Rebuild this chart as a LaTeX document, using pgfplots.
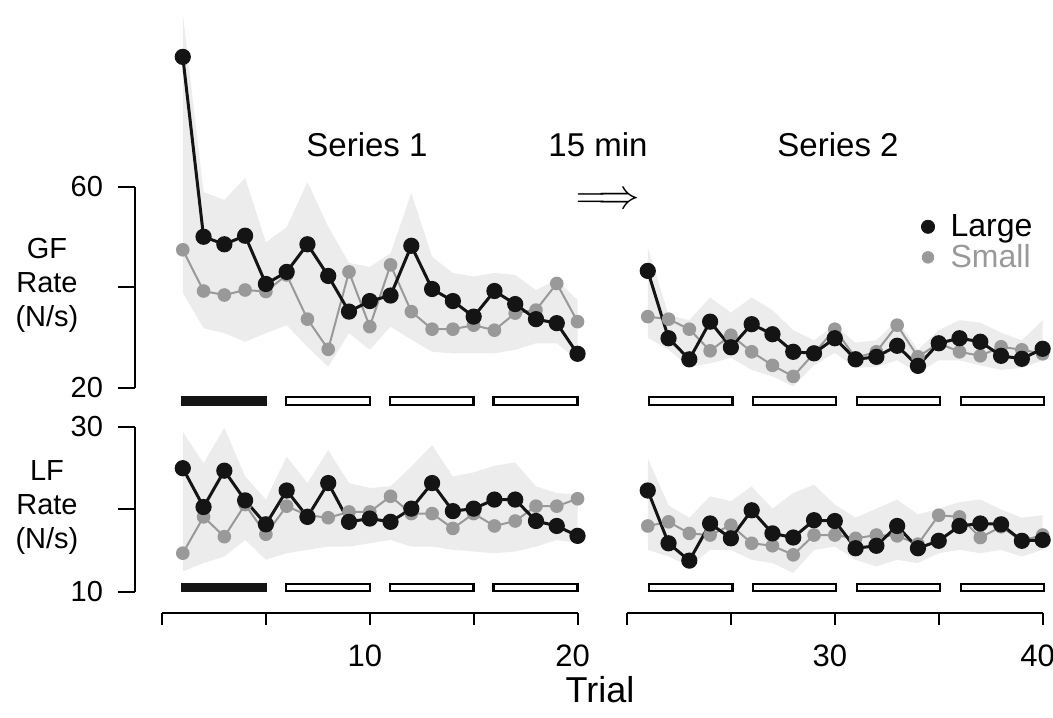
\documentclass[border=0pt]{standalone}
\usepackage{fontspec}
\setmainfont{Liberation Sans}
\usepackage{pgfplots}
\pgfplotsset{compat=1.18}
\usepackage{pgfplotstable}
\usepgfplotslibrary{fillbetween}

\definecolor{bandgray}{gray}{0.925}
\definecolor{smallgray}{gray}{0.6}
\definecolor{largeblack}{gray}{0.08}

% trial, Large, Small, band upper, band lower
\pgfplotstableread{
t  L    S    up   lo
1  85.9 47.5 94.5 38.9
2  50.1 39.3 59.0 31.9
3  48.6 38.5 57.4 30.9
4  50.3 39.5 61.8 29.2
5  40.7 39.2 49.0 30.9
6  43.1 42.5 52.0 32.5
7  48.6 33.7 61.0 28.2
8  42.3 27.7 52.1 24.2
9  35.2 43.1 44.9 30.9
10 37.3 32.2 44.1 27.6
11 38.4 44.5 46.8 32.2
12 48.3 35.2 58.8 29.6
13 39.7 31.7 46.1 27.2
14 37.3 31.7 42.9 26.9
15 34.2 32.5 42.2 26.9
16 39.3 31.5 42.9 26.9
17 36.7 34.9 42.5 27.6
18 33.7 35.5 39.5 28.9
19 32.9 40.8 41.5 28.9
20 26.8 33.2 37.5 25.6
}\GFone
\pgfplotstableread{
t  L    S    up   lo
21 43.3 34.2 48.0 30.0
22 29.9 33.7 34.5 27.6
23 25.7 31.7 33.5 24.2
24 33.2 27.4 38.0 24.9
25 28.1 30.5 35.0 26.0
26 32.7 27.2 38.0 23.6
27 30.7 24.5 35.5 22.3
28 27.2 22.3 31.5 20.3
29 26.9 26.9 29.5 24.5
30 29.9 31.7 32.5 27.0
31 25.7 26.0 29.0 24.0
32 26.2 27.2 29.5 24.2
33 28.4 32.5 33.5 25.5
34 24.4 26.2 27.6 23.0
35 28.9 28.9 31.5 25.5
36 29.9 27.2 33.5 25.5
37 29.2 26.4 33.0 24.5
38 26.4 28.2 31.0 23.6
39 25.8 27.6 29.5 24.0
40 27.8 26.8 33.5 25.5
}\GFtwo
\pgfplotstableread{
t  L    S    up   lo
1  25.0 14.7 29.4 12.5
2  20.3 19.1 25.6 13.5
3  24.7 16.7 29.9 14.3
4  21.1 20.6 24.0 16.3
5  18.2 17.0 21.2 13.9
6  22.3 20.4 26.4 14.7
7  19.1 19.3 23.2 15.1
8  23.2 19.0 27.2 15.5
9  18.5 19.7 23.2 15.5
10 18.9 19.7 22.6 15.9
11 18.5 21.6 22.8 16.3
12 20.1 19.5 25.2 15.5
13 23.2 19.5 27.8 15.5
14 19.8 17.7 24.0 15.1
15 20.1 19.5 24.5 14.9
16 21.2 18.0 25.3 14.7
17 21.2 18.6 25.7 14.9
18 18.6 20.4 22.8 15.5
19 18.0 20.4 22.0 16.3
20 16.8 21.3 21.8 15.9
}\LFone
\pgfplotstableread{
t  L    S    up   lo
21 22.3 18.0 26.2 15.1
22 15.9 18.5 20.5 14.3
23 13.8 17.1 19.0 13.1
24 18.3 16.9 21.6 15.1
25 16.5 18.1 21.0 15.1
26 19.9 15.9 22.8 13.9
27 17.1 15.6 20.1 13.5
28 16.6 14.5 22.0 12.3
29 18.7 16.9 23.0 15.1
30 18.6 16.9 20.6 15.5
31 15.3 16.5 19.0 13.9
32 15.6 16.9 20.1 13.1
33 18.0 16.8 21.2 13.9
34 15.3 15.8 19.4 13.5
35 16.2 19.3 20.1 14.7
36 18.0 19.1 20.9 15.1
37 18.3 16.6 21.2 14.7
38 18.2 17.9 20.0 15.1
39 16.2 16.2 19.0 14.3
40 16.3 16.9 19.3 15.1
}\LFtwo

\tikzset{blk/.style={line width=1.2pt, fill=white}}
\pgfplotsset{
  panel/.style={scale only axis, clip=false, axis line style={draw=none},
    tick align=outside, tick style={line width=1pt, black},
    major tick length=8.5pt,
    /pgf/number format/assume math mode=true,
    yticklabel style={font=\fontsize{14.5}{15}\selectfont, xshift=-4pt},
    xticklabel style={font=\fontsize{15.5}{16}\selectfont, xshift=-2.5pt, yshift=-4pt},
    xtick=\empty, ytick=\empty, xtick pos=bottom, ytick pos=left},
  segA/.style={xmin=-1.3, xmax=20.6, width=227.5pt},
  segB/.style={xmin=19.4, xmax=40.6, width=220.3pt},
  panGF/.style={ymin=15, ymax=97, height=206pt},
  panLF/.style={ymin=7.45, ymax=31.5, height=99.2pt},
  large/.style={color=largeblack, line width=1.5pt, mark=*, mark size=3.3pt},
  small/.style={color=smallgray, line width=1pt, mark=*, mark size=2.9pt},
  band/.style={fill=bandgray, draw=none},
}

\newcommand{\trialdata}[1]{%
  \addplot[name path=up, draw=none, forget plot] table[x=t, y=up] {#1};
  \addplot[name path=lo, draw=none, forget plot] table[x=t, y=lo] {#1};
  \addplot[band, forget plot] fill between[of=up and lo];
  \addplot[small, forget plot] table[x=t, y=S] {#1};
  \addplot[large, forget plot] table[x=t, y=L] {#1};
}

\begin{document}
\begin{tikzpicture}

% GF, series 1
\begin{axis}[panel, segA, panGF, at={(67.5pt,151.95pt)}, anchor=south west,
  ytick={20,40,60}, yticklabels={20,,60}]
\trialdata{\GFone}
\draw[line width=1.1pt] (axis cs:-1.3,20) -- (axis cs:-1.3,60);
\fill[largeblack] (axis cs:0.9,16.42) rectangle (axis cs:5.05,18.41);
\draw[blk] (axis cs:5.96,16.66) rectangle (axis cs:10.0,18.17);
\draw[blk] (axis cs:10.96,16.66) rectangle (axis cs:15.0,18.17);
\draw[blk] (axis cs:15.96,16.66) rectangle (axis cs:20.0,18.17);
\end{axis}

% GF, series 2
\begin{axis}[panel, segB, panGF, at={(307.25pt,151.95pt)}, anchor=south west,
  legend style={at={(axis description cs:0.682,0.503)}, anchor=north west,
    draw=none, fill=none, font=\fontsize{16}{16}\selectfont, row sep=-1.5pt,
    column sep=6pt},
  legend cell align=left]
\trialdata{\GFtwo}
\draw[blk] (axis cs:21.06,16.66) rectangle (axis cs:25.07,18.17);
\draw[blk] (axis cs:26.06,16.66) rectangle (axis cs:30.07,18.17);
\draw[blk] (axis cs:31.06,16.66) rectangle (axis cs:35.07,18.17);
\draw[blk] (axis cs:36.06,16.66) rectangle (axis cs:40.07,18.17);
\addlegendimage{only marks, mark=*, largeblack, mark size=3.3pt}
\addlegendentry{Large}
\addlegendimage{only marks, mark=*, smallgray, mark size=2.9pt}
\addlegendentry{\textcolor{smallgray}{Small}}
\end{axis}

% LF, series 1
\begin{axis}[panel, segA, panLF, at={(67.5pt,52pt)}, anchor=south west,
  ytick={10,20,30}, yticklabels={10,,30},
  xtick={0,5,10,15,20}, xticklabels={,,10,,20},
  xtick style={/pgfplots/major tick length=6pt}]
\trialdata{\LFone}
\draw[line width=1.1pt] (axis cs:-1.3,10) -- (axis cs:-1.3,30);
\draw[line width=1.1pt] (axis cs:0,7.45) -- (axis cs:20,7.45);
\fill[largeblack] (axis cs:0.9,10.0) rectangle (axis cs:5.05,11.1);
\draw[blk] (axis cs:5.96,10.15) rectangle (axis cs:10.0,10.95);
\draw[blk] (axis cs:10.96,10.15) rectangle (axis cs:15.0,10.95);
\draw[blk] (axis cs:15.96,10.15) rectangle (axis cs:20.0,10.95);
\end{axis}

% LF, series 2
\begin{axis}[panel, segB, panLF, at={(307.25pt,52pt)}, anchor=south west,
  xtick={20,25,30,35,40}, xticklabels={,,30,,40},
  xtick style={/pgfplots/major tick length=6pt}]
\trialdata{\LFtwo}
\draw[line width=1.1pt] (axis cs:20,7.45) -- (axis cs:40,7.45);
\draw[blk] (axis cs:21.06,10.15) rectangle (axis cs:25.07,10.95);
\draw[blk] (axis cs:26.06,10.15) rectangle (axis cs:30.07,10.95);
\draw[blk] (axis cs:31.06,10.15) rectangle (axis cs:35.07,10.95);
\draw[blk] (axis cs:36.06,10.15) rectangle (axis cs:40.07,10.95);
\end{axis}

\begin{scope}[every node/.style={font=\fontsize{16.5}{16.5}\selectfont}]
\node at (183.5pt,286pt) {Series 1};
\node at (299pt,286pt) {15 min};
\node at (419pt,286pt) {Series 2};
\node[inner sep=0pt, font=\fontsize{22}{22}\selectfont] at (304pt,258pt) {$\Longrightarrow$};
\end{scope}
\node[align=center, font=\fontsize{14.5}{17}\selectfont] at (23.5pt,216pt) {GF\\Rate\\(N/s)};
\node[align=center, font=\fontsize{14.5}{17}\selectfont] at (23.5pt,104.5pt) {LF\\Rate\\(N/s)};
\node[font=\fontsize{18}{18}\selectfont] at (300pt,13.5pt) {Trial};
\pgfresetboundingbox
\path[use as bounding box] (0,0) rectangle (526.5pt,358.5pt);
\end{tikzpicture}
\end{document}
